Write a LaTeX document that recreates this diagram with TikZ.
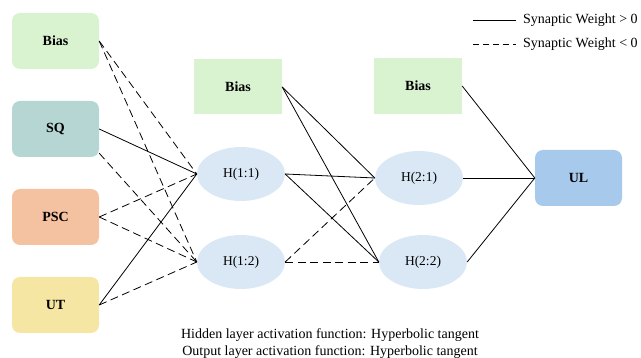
\documentclass[tikz,border=0pt]{standalone}
\usepackage{fontspec}
\setmainfont{Liberation Serif}
\usetikzlibrary{shapes.geometric,calc}
\definecolor{biasgreen}{HTML}{D9F2D0}
\definecolor{sqcol}{HTML}{B5D6D2}
\definecolor{psccol}{HTML}{F4C1A1}
\definecolor{utcol}{HTML}{F6E6A3}
\definecolor{hcol}{HTML}{DAE8F6}
\definecolor{ulcol}{HTML}{A6C9EC}
\tikzset{
  inbox/.style={rounded corners=8pt, minimum width=87pt, minimum height=56pt, inner sep=0pt, font=\fontsize{14}{16}\selectfont\bfseries},
  biasbox/.style={fill=biasgreen, minimum width=88pt, minimum height=55pt, inner sep=0pt, font=\fontsize{14}{16}\selectfont\bfseries},
  hnode/.style={ellipse, fill=hcol, minimum width=88pt, minimum height=54pt, inner sep=0pt, font=\fontsize{13.5}{15}\selectfont},
  posline/.style={line width=0.8pt},
  negline/.style={line width=0.8pt, dash pattern=on 8pt off 4.5pt},
  legtext/.style={anchor=west, inner sep=0pt, font=\fontsize{14}{16}\selectfont}
}
\begin{document}
\begin{tikzpicture}[x=1pt,y=-1pt]
\useasboundingbox (0,0) rectangle (641,358);
% input layer
\node[inbox, fill=biasgreen] (b0) at (55.5,41) {Bias};
\node[inbox, fill=sqcol] (sq) at (55.5,129) {SQ};
\node[inbox, fill=psccol] (psc) at (55.5,217) {PSC};
\node[inbox, fill=utcol] (ut) at (55.5,305) {UT};
% hidden layer 1
\node[biasbox] (b1) at (238,87) {Bias};
\node[hnode] (h11) at (241,174) {H(1:1)};
\node[hnode] (h12) at (241,262) {H(1:2)};
% hidden layer 2
\node[biasbox, minimum height=56pt] (b2) at (418,86) {Bias};
\node[hnode] (h21) at (419,178) {H(2:1)};
\node[hnode] (h22) at (423,262) {H(2:2)};
% output
\node[inbox, fill=ulcol] (ul) at (578.5,178) {UL};
% connectors input -> H1
\draw[negline] (b0.east) -- (h11.west);
\draw[negline] (b0.east) -- (h12.west);
\draw[posline] (sq.east) -- (h11.west);
\draw[negline] ([yshift=4pt]sq.south east) -- (h12.west);
\draw[negline] (psc.east) -- (h11.west);
\draw[negline] (psc.east) -- (h12.west);
\draw[posline] (ut.east) -- (h11.west);
\draw[negline] (ut.east) -- (h12.west);
% H1 -> H2
\draw[posline] (b1.east) -- (h21.west);
\draw[posline] (b1.east) -- (h22.west);
\draw[posline] (h11.east) -- (h21.west);
\draw[posline] (h11.east) -- (h22.west);
\draw[negline] (h12.east) -- (h21.west);
\draw[negline] (h12.east) -- (h22.west);
% H2 -> output
\draw[posline] (b2.east) -- (ul.west);
\draw[posline] (h21.east) -- (ul.west);
\draw[posline] (h22.east) -- (ul.west);
% legend
\coordinate (l1a) at (473,20);
\coordinate (l1b) at (516,20);
\coordinate (l2a) at (473,44);
\coordinate (l2b) at (516,44);
\draw[posline] (l1a) -- (l1b);
\draw[negline, dash pattern=on 6pt off 4pt] (l2a) -- (l2b);
\node[legtext] (lt1) at (523,20) {Synaptic Weight > 0};
\node[legtext] (lt2) at (523,44) {Synaptic Weight < 0};
% caption
\node[align=center, inner sep=0pt, font=\fontsize{14}{17}\selectfont] (cap) at (330,343.5) {Hidden layer activation function: Hyperbolic tangent\\Output layer activation function: Hyperbolic tangent};
\end{tikzpicture}
\end{document}
